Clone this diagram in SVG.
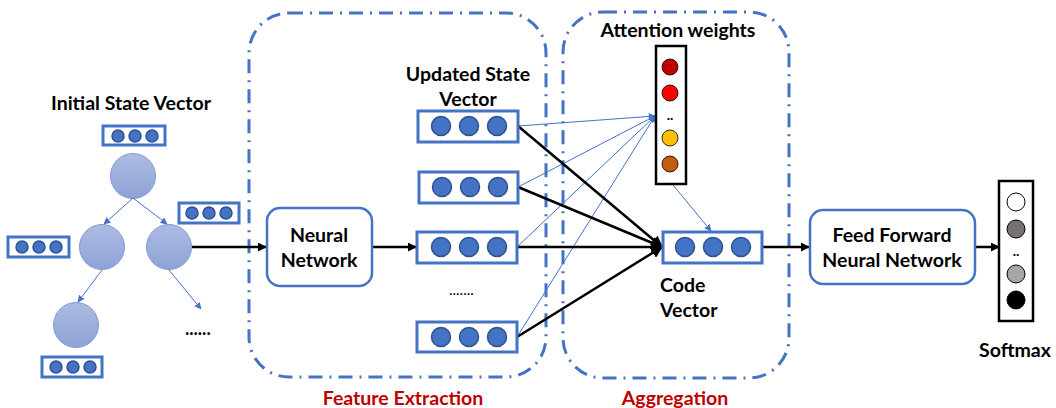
<svg xmlns="http://www.w3.org/2000/svg" width="1056" height="408" viewBox="0 0 1056 408">
  <defs>
    <linearGradient id="nodeFill" x1="0" y1="0" x2="0" y2="1">
      <stop offset="0" stop-color="#AEBCE2"/>
      <stop offset="1" stop-color="#8DA2D6"/>
    </linearGradient>
    <marker id="arrowBlue" viewBox="0 0 10 10" refX="9" refY="5" markerWidth="7" markerHeight="7" markerUnits="userSpaceOnUse" orient="auto">
      <path d="M0,0 L10,5 L0,10 z" fill="#4472C4"/>
    </marker>
    <marker id="arrowBlack" viewBox="0 0 10 10" refX="9" refY="5" markerWidth="9" markerHeight="9" markerUnits="userSpaceOnUse" orient="auto">
      <path d="M0,0 L10,5 L0,10 z" fill="#000"/>
    </marker>
    <marker id="arrowBig" viewBox="0 0 10 10" refX="9" refY="5" markerWidth="12" markerHeight="12" markerUnits="userSpaceOnUse" orient="auto">
      <path d="M0,0 L10,5 L0,10 z" fill="#000"/>
    </marker>
  </defs>
  <style>
    text { font-family: Lato, "Open Sans", "Liberation Sans", sans-serif; font-weight: bold; fill: #000; }
    .lbl { font-size: 19.5px; text-anchor: middle; }
    .red { fill: #C00000; font-size: 19.5px; text-anchor: middle; }
    .vbox { fill: #fff; stroke: #4472C4; stroke-width: 3; }
    .vdot { fill: #4472C4; stroke: #2F528F; stroke-width: 1.5; }
    .tnode { fill: url(#nodeFill); stroke: #7F9BD5; stroke-width: 1; }
    .rbox { fill: #fff; stroke: #4472C4; stroke-width: 2.5; }
    .group { fill: none; stroke: #4472C4; stroke-width: 3; stroke-dasharray: 14 7 2 7; }
    .thin { stroke: #4472C4; stroke-width: 1; fill: none; }
    .thick { stroke: #000; stroke-width: 2.5; fill: none; }
    .kbox { fill: #fff; stroke: #000; stroke-width: 2.5; }
  </style>

  <!-- stage outlines -->
  <g id="feature-extraction">
    <rect class="group" x="249" y="13" width="297" height="364" rx="40"/>
    <text class="red" x="403" y="405">Feature Extraction</text>
  </g>
  <g id="aggregation">
    <rect class="group" x="563" y="12" width="226" height="366" rx="40"/>
    <text class="red" x="675" y="405">Aggregation</text>
  </g>

  <!-- input tree -->
  <g id="tree">
    <text class="lbl" x="131" y="110">Initial State Vector</text>
    <circle class="tnode" cx="133" cy="176" r="22.5"/>
    <circle class="tnode" cx="102" cy="247" r="22.5"/>
    <circle class="tnode" cx="169" cy="247" r="22.5"/>
    <circle class="tnode" cx="76" cy="325" r="22.5"/>
    <g class="thin">
      <line x1="133" y1="198" x2="104" y2="224" marker-end="url(#arrowBlue)"/>
      <line x1="133" y1="198" x2="167" y2="224" marker-end="url(#arrowBlue)"/>
      <line x1="102" y1="270" x2="78" y2="302" marker-end="url(#arrowBlue)"/>
      <line x1="169" y1="270" x2="201" y2="309" marker-end="url(#arrowBlue)"/>
    </g>
    <text x="185" y="335" style="font-size:18px">......</text>
    <g id="tree-vec-root">
      <rect class="vbox" x="103" y="126" width="62" height="19"/>
      <circle class="vdot" cx="118" cy="136" r="6"/>
      <circle class="vdot" cx="135" cy="136" r="6"/>
      <circle class="vdot" cx="152" cy="136" r="6"/>
    </g>
    <g id="tree-vec-right">
      <rect class="vbox" x="179" y="203" width="60" height="20"/>
      <circle class="vdot" cx="192" cy="213" r="6"/>
      <circle class="vdot" cx="209" cy="213" r="6"/>
      <circle class="vdot" cx="226" cy="213" r="6"/>
    </g>
    <g id="tree-vec-left">
      <rect class="vbox" x="8" y="237" width="61" height="20"/>
      <circle class="vdot" cx="22" cy="247" r="6"/>
      <circle class="vdot" cx="39" cy="247" r="6"/>
      <circle class="vdot" cx="56" cy="247" r="6"/>
    </g>
    <g id="tree-vec-bottom">
      <rect class="vbox" x="42" y="357" width="60" height="20"/>
      <circle class="vdot" cx="56" cy="367" r="6"/>
      <circle class="vdot" cx="73" cy="367" r="6"/>
      <circle class="vdot" cx="90" cy="367" r="6"/>
    </g>
  </g>

  <!-- connectors -->
  <g id="connectors">
    <line class="thick" x1="192" y1="247" x2="266" y2="247" marker-end="url(#arrowBlack)"/>
    <line class="thick" x1="372" y1="247" x2="416" y2="247" marker-end="url(#arrowBlack)"/>
    <g class="thin">
      <line x1="518" y1="126" x2="655" y2="116" marker-end="url(#arrowBlue)"/>
      <line x1="518" y1="187" x2="655" y2="116" marker-end="url(#arrowBlue)"/>
      <line x1="517" y1="247" x2="655" y2="116" marker-end="url(#arrowBlue)"/>
      <line x1="517" y1="337" x2="655" y2="116" marker-end="url(#arrowBlue)"/>
      <line x1="673" y1="185" x2="711" y2="231" marker-end="url(#arrowBlue)"/>
    </g>
    <g class="thick">
      <line x1="518" y1="126" x2="662" y2="247" marker-end="url(#arrowBig)"/>
      <line x1="518" y1="187" x2="662" y2="247" marker-end="url(#arrowBig)"/>
      <line x1="517" y1="247" x2="662" y2="247" marker-end="url(#arrowBig)"/>
      <line x1="517" y1="337" x2="662" y2="247" marker-end="url(#arrowBig)"/>
    </g>
    <line class="thick" x1="762" y1="247" x2="809" y2="247" marker-end="url(#arrowBlack)"/>
    <line class="thick" x1="975" y1="247" x2="999" y2="247" marker-end="url(#arrowBlack)"/>
  </g>

  <!-- feature extraction nodes -->
  <g id="neural-network">
    <rect class="rbox" x="267" y="208" width="105" height="78" rx="13"/>
    <text class="lbl" x="319" y="242">Neural</text>
    <text class="lbl" x="319" y="267">Network</text>
  </g>
  <g id="updated-state">
    <text class="lbl" x="468" y="81">Updated State</text>
    <text class="lbl" x="468" y="106">Vector</text>
    <g id="usv-1">
      <rect class="vbox" x="418" y="111" width="100" height="31"/>
      <circle class="vdot" cx="441" cy="126" r="9.5"/>
      <circle class="vdot" cx="469" cy="126" r="9.5"/>
      <circle class="vdot" cx="497" cy="126" r="9.5"/>
    </g>
    <g id="usv-2">
      <rect class="vbox" x="419" y="172" width="99" height="31"/>
      <circle class="vdot" cx="442" cy="187" r="9.5"/>
      <circle class="vdot" cx="470" cy="187" r="9.5"/>
      <circle class="vdot" cx="498" cy="187" r="9.5"/>
    </g>
    <g id="usv-3">
      <rect class="vbox" x="417" y="232" width="100" height="31"/>
      <circle class="vdot" cx="441" cy="247" r="9.5"/>
      <circle class="vdot" cx="469" cy="247" r="9.5"/>
      <circle class="vdot" cx="497" cy="247" r="9.5"/>
    </g>
    <text x="449" y="295" style="font-size:15px;font-weight:normal">.......</text>
    <g id="usv-4">
      <rect class="vbox" x="417" y="322" width="100" height="30"/>
      <circle class="vdot" cx="441" cy="337" r="9.5"/>
      <circle class="vdot" cx="469" cy="337" r="9.5"/>
      <circle class="vdot" cx="497" cy="337" r="9.5"/>
    </g>
  </g>

  <!-- aggregation nodes -->
  <g id="attention">
    <text class="lbl" x="678" y="37">Attention weights</text>
    <rect class="kbox" x="656" y="46" width="30" height="138"/>
    <circle cx="670" cy="67" r="8" fill="#C00000" stroke="#000" stroke-width="0.8"/>
    <circle cx="670" cy="93" r="8" fill="#FF0000" stroke="#000" stroke-width="0.8"/>
    <text x="670" y="120" style="font-size:14px;text-anchor:middle">..</text>
    <circle cx="670" cy="138" r="8" fill="#FFC000" stroke="#000" stroke-width="0.8"/>
    <circle cx="670" cy="164" r="8" fill="#C55A11" stroke="#000" stroke-width="0.8"/>
  </g>
  <g id="code-vector">
    <rect class="vbox" x="663" y="232" width="99" height="31"/>
    <circle class="vdot" cx="685" cy="247" r="9.5"/>
    <circle class="vdot" cx="713" cy="247" r="9.5"/>
    <circle class="vdot" cx="741" cy="247" r="9.5"/>
    <text x="660" y="292" style="font-size:19.5px">Code</text>
    <text x="660" y="317" style="font-size:19.5px">Vector</text>
  </g>

  <!-- output nodes -->
  <g id="feed-forward">
    <rect class="rbox" x="810" y="210" width="165" height="74" rx="13"/>
    <text class="lbl" x="892" y="242">Feed Forward</text>
    <text class="lbl" x="892" y="267">Neural Network</text>
  </g>
  <g id="softmax">
    <rect class="kbox" x="999" y="181" width="34" height="140"/>
    <circle cx="1016" cy="202" r="9" fill="#fff" stroke="#000" stroke-width="1"/>
    <circle cx="1016" cy="229" r="9" fill="#767171" stroke="#000" stroke-width="1"/>
    <text x="1016" y="256" style="font-size:14px;text-anchor:middle">..</text>
    <circle cx="1016" cy="274" r="9" fill="#A6A6A6" stroke="#000" stroke-width="1"/>
    <circle cx="1016" cy="300" r="9" fill="#000" stroke="#000" stroke-width="1"/>
    <text class="lbl" x="1015" y="357">Softmax</text>
  </g>
</svg>
